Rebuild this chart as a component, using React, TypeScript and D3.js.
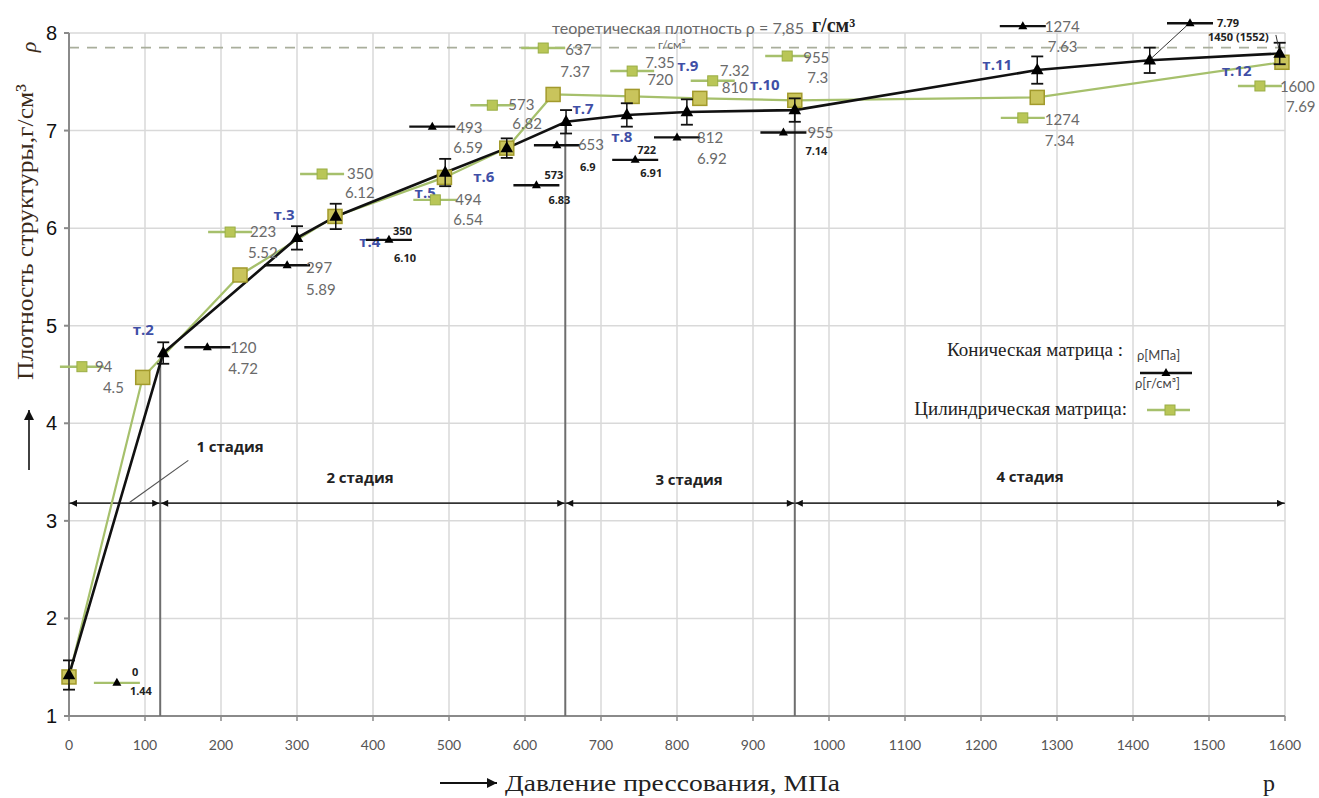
import React from 'react';
import * as d3 from 'd3';

// ---- data ----
const xTicks = [0,100,200,300,400,500,600,700,800,900,1000,1100,1200,1300,1400,1500,1600];
const yTicks = [1,2,3,4,5,6,7,8];
const theoreticalRho = 7.85;

// conical matrix (black)
const conicalP = [0,124,300,351,495,576,654,734,813,955,1274,1422,1593];
const conicalRho = [1.42,4.72,5.90,6.12,6.57,6.82,7.09,7.16,7.19,7.21,7.62,7.72,7.79];
const conicalErr = [0.15,0.11,0.12,0.13,0.14,0.10,0.12,0.12,0.13,0.12,0.14,0.13,0.11];
const pointNames = ['', 'т.2','т.3','т.4','т.5','т.6','т.7','т.8','т.9','т.10','т.11','', 'т.12'];
const pointNameDx = [0,-20,-13,34,-20,-23,17,-5,1,-30,-40,0,-43];
const pointNameDy = [0,-23,-23,25,20,29,-13,22,-46,-25,-5,0,17];

// cylindrical matrix (green)
const cylP = [0,97,225,350,494,576,637,741,830,955,1274,1596];
const cylRho = [1.40,4.47,5.52,6.12,6.52,6.82,7.37,7.35,7.33,7.31,7.34,7.70];

// stage boundaries
const stageBounds = [0,120,653,955,1600];
const stageNames = ['1 стадия','2 стадия','3 стадия','4 стадия'];
const stageRho = 3.18;
const stageLineTopRho = [4.72,7.09,7.21];

// callouts: conical
const kP = [63,182,287,421,478,615,642,745,800,940,1255,1475];
const kRho = [1.34,4.78,5.62,5.88,7.04,6.44,6.85,6.70,6.93,6.98,8.07,8.10];
const kTop = ['0','120','297','350','493','573','653','722','812','955','1274','7.79'];
const kBottom = ['1.44','4.72','5.89','6.10','6.59','6.83','6.9','6.91','6.92','7.14','7.63','1450 (1552)'];
const kTopBold = [1,0,0,1,0,1,0,1,0,0,0,1];
const kBottomBold = [1,0,0,1,0,1,1,1,0,1,0,1];
const kTopDx = [15,23,19,4,24,8,21,2,20,24,22,27];
const kTopDy = [-11,1,3,-9,1,-10,0,-10,0,0,1,0];
const kBotDx = [13,21,19,5,21,12,23,5,20,22,25,18];
const kBotDy = [8,22,25,18,21,15,22,13,21,19,21,14];

// callouts: cylindrical
const gP = [17,212,333,482,557,624,741,847,945,1255,1567];
const gRho = [4.58,5.96,6.555,6.29,7.26,7.846,7.61,7.51,7.764,7.13,7.457];
const gTop = ['94','223','350','494','573','637','7.35','7.32','955','1274','1600'];
const gBottom = ['4.5','5.52','6.12','6.54','6.82','7.37','720','810','7.3','7.34','7.69'];
const gTopDx = [13,20,25,20,16,22,13,7,16,22,20];
const gTopDy = [0,0,0,0,0,2,-8,-10,2,2,1];
const gBotDx = [21,18,23,18,20,17,15,9,20,22,26];
const gBotDy = [21,21,19,20,19,24,9,7,22,23,21];

const W = 1319, H = 798;
const x = d3.scaleLinear().domain([0,1600]).range([69,1285]);
const y = d3.scaleLinear().domain([1,8]).range([716,33]);

const GREEN = '#a6c06c';
const SQ_FILL = '#c9c45c';
const SQ_STROKE = '#a29a2c';
const GRAY_TXT = '#6a6a6a';
const BLUE = '#3f4fa6';
const SERIF = "'Liberation Serif', 'DejaVu Serif', serif";
const SANS = "Lato, 'Open Sans', sans-serif";
const BOLD_SANS = "'Open Sans', 'DejaVu Sans', sans-serif";

function Tri({cx, cy, s = 7, fill = '#000'}: {cx:number; cy:number; s?:number; fill?:string}) {
  return <path d={`M${cx},${cy - s} L${cx + s * 0.9},${cy + s * 0.6} L${cx - s * 0.9},${cy + s * 0.6} Z`} fill={fill} />;
}

export default function App() {
  const blackLine = d3.line<number>().x((_, i) => x(conicalP[i])).y((d) => y(d));
  const greenLine = d3.line<number>().x((_, i) => x(cylP[i])).y((d) => y(d));
  const stageY = y(stageRho);
  const stageLabelX = [230, 360, 689, 1030];
  const stageLabelY = [447, 478, 480, 477];

  return (
    <svg width={W} height={H} style={{position:'absolute', left:0, top:0, background:'#fff'}}>
      <defs>
        <marker id="ah" viewBox="0 0 10 10" refX="10" refY="5" markerWidth="9" markerHeight="7" orient="auto-start-reverse" markerUnits="userSpaceOnUse">
          <path d="M0,0 L10,5 L0,10 Z" fill="#111" />
        </marker>
        <marker id="ah2" viewBox="0 0 10 10" refX="10" refY="5" markerWidth="12" markerHeight="10" orient="auto" markerUnits="userSpaceOnUse">
          <path d="M0,0 L10,5 L0,10 Z" fill="#111" />
        </marker>
      </defs>

      {/* grid */}
      {xTicks.slice(1).map((t) => (
        <line key={'gx'+t} x1={x(t)} x2={x(t)} y1={y(8)} y2={y(1)} stroke="#d9d9d9" strokeWidth={1.5} />
      ))}
      {yTicks.slice(1).map((t) => (
        <line key={'gy'+t} x1={x(0)} x2={x(1600)} y1={y(t)} y2={y(t)} stroke="#d9d9d9" strokeWidth={1.5} />
      ))}

      {/* theoretical density dashed line */}
      <line x1={x(0)} x2={x(1600)} y1={y(theoreticalRho)} y2={y(theoreticalRho)} stroke="#a9ae9c" strokeWidth={1.6} strokeDasharray="10,8" />

      {/* axes */}
      <line x1={x(0)} x2={x(0)} y1={y(8)} y2={y(1)} stroke="#8a8a8a" strokeWidth={2} />
      <line x1={x(0)} x2={x(1600)} y1={y(1)} y2={y(1)} stroke="#8a8a8a" strokeWidth={2} />
      {yTicks.map((t) => (
        <g key={'yt'+t}>
          <line x1={x(0)-5} x2={x(0)} y1={y(t)} y2={y(t)} stroke="#8a8a8a" strokeWidth={2} />
          <text x={57} y={y(t)} dy="0.35em" textAnchor="end" fontFamily="Liberation Sans, Arial, sans-serif" fontSize={20} fill="#111">{t}</text>
        </g>
      ))}
      {xTicks.map((t) => (
        <g key={'xt'+t}>
          <line x1={x(t)} x2={x(t)} y1={y(1)} y2={y(1)+5} stroke="#8a8a8a" strokeWidth={1.5} />
          <text x={x(t)} y={745} dy="0.35em" textAnchor="middle" fontFamily={SANS} fontSize={14} fill="#555">{t}</text>
        </g>
      ))}

      {/* stage vertical lines */}
      {stageBounds.slice(1,4).map((b, i) => (
        <line key={'sv'+b} x1={x(b)} x2={x(b)} y1={y(stageLineTopRho[i])} y2={y(1)} stroke="#6e6e6e" strokeWidth={2} />
      ))}
      {/* stage arrow line */}
      <line x1={x(0)} x2={x(1600)} y1={stageY} y2={stageY} stroke="#444" strokeWidth={1.5} />
      {stageBounds.slice(0,4).map((b, i) => (
        <line key={'sa'+b} x1={x(b)+1} x2={x(stageBounds[i+1])-1} y1={stageY} y2={stageY} stroke="#333" strokeWidth={1.5} markerStart="url(#ah)" markerEnd="url(#ah)" />
      ))}
      {stageNames.map((n, i) => (
        <text key={n} x={stageLabelX[i]} y={stageLabelY[i]} dy="0.35em" textAnchor="middle" fontFamily={BOLD_SANS} fontWeight="bold" fontSize={15} fill="#222">{n}</text>
      ))}
      <line x1={x(157)} y1={y(3.62)} x2={x(80)} y2={y(3.19)} stroke="#555" strokeWidth={1.2} />

      {/* cylindrical line */}
      <path d={greenLine(cylRho) || ''} fill="none" stroke={GREEN} strokeWidth={2.2} />
      {/* conical line */}
      <path d={blackLine(conicalRho) || ''} fill="none" stroke="#111" strokeWidth={2.6} />

      {/* green squares */}
      {cylP.map((p, i) => (
        <rect key={'sq'+i} x={x(p)-7} y={y(cylRho[i])-7} width={14} height={14} fill={SQ_FILL} stroke={SQ_STROKE} strokeWidth={1.5} />
      ))}

      {/* error bars + triangles */}
      {conicalP.map((p, i) => {
        const cx = x(p), t = y(conicalRho[i] + conicalErr[i]), b = y(conicalRho[i] - conicalErr[i]);
        return (
          <g key={'eb'+i}>
            <line x1={cx} x2={cx} y1={t} y2={b} stroke="#111" strokeWidth={1.5} />
            <line x1={cx-6} x2={cx+6} y1={t} y2={t} stroke="#111" strokeWidth={1.8} />
            <line x1={cx-6} x2={cx+6} y1={b} y2={b} stroke="#111" strokeWidth={1.8} />
            <Tri cx={cx} cy={y(conicalRho[i])} s={7} />
          </g>
        );
      })}

      {/* point names */}
      {conicalP.map((p, i) => pointNames[i] ? (
        <text key={'pn'+i} x={x(p)+pointNameDx[i]} y={y(conicalRho[i])+pointNameDy[i]} dy="0.35em" textAnchor="middle" fontFamily={BOLD_SANS} fontWeight="bold" fontSize={15} fill={BLUE}>{pointNames[i]}</text>
      ) : null)}

      {/* conical callouts */}
      {kP.map((p, i) => {
        const cx = x(p), cy = y(kRho[i]);
        const lineColor = i === 0 ? GREEN : '#111';
        const tb = kTopBold[i], bb = kBottomBold[i];
        return (
          <g key={'kc'+i}>
            <line x1={cx-23} x2={cx+23} y1={cy} y2={cy} stroke={lineColor} strokeWidth={2.4} />
            <Tri cx={cx} cy={cy} s={5} />
            <text x={cx+kTopDx[i]} y={cy+kTopDy[i]} dy="0.35em" fontFamily={tb ? BOLD_SANS : SANS} fontWeight={tb ? 'bold' : 'normal'} fontSize={tb ? 11 : 15} fill={tb ? '#222' : GRAY_TXT}>{kTop[i]}</text>
            <text x={cx+kBotDx[i]} y={cy+kBotDy[i]} dy="0.35em" fontFamily={bb ? BOLD_SANS : SANS} fontWeight={bb ? 'bold' : 'normal'} fontSize={bb ? 11 : 15} fill={bb ? '#222' : GRAY_TXT}>{kBottom[i]}</text>
          </g>
        );
      })}
      {/* leaders for top-right callout */}
      <line x1={x(1470)} y1={y(8.07)} x2={x(1424)} y2={y(7.74)} stroke="#333" strokeWidth={1} />
      <line x1={x(1588)} y1={y(7.98)} x2={x(1592)} y2={y(7.84)} stroke="#333" strokeWidth={1} />

      {/* cylindrical callouts */}
      {gP.map((p, i) => {
        const cx = x(p), cy = y(gRho[i]);
        return (
          <g key={'gc'+i}>
            <line x1={cx-22} x2={cx+22} y1={cy} y2={cy} stroke={GREEN} strokeWidth={2.4} />
            <rect x={cx-5} y={cy-5} width={10} height={10} fill="#b9c657" stroke="#9aae45" strokeWidth={1} />
            <text x={cx+gTopDx[i]} y={cy+gTopDy[i]} dy="0.35em" fontFamily={SANS} fontSize={15} fill={GRAY_TXT}>{gTop[i]}</text>
            <text x={cx+gBotDx[i]} y={cy+gBotDy[i]} dy="0.35em" fontFamily={SANS} fontSize={15} fill={GRAY_TXT}>{gBottom[i]}</text>
          </g>
        );
      })}

      {/* theoretical density label */}
      <text x={552} y={29} dy="0.35em" fontFamily={SANS} fontSize={15} fill={GRAY_TXT} textLength={252} lengthAdjust="spacingAndGlyphs">теоретическая плотность ρ = 7,85</text>
      <text x={812} y={25} dy="0.35em" fontFamily={SERIF} fontWeight="bold" fontSize={20} fill="#222">г/см³</text>
      <text x={658} y={45} dy="0.35em" fontFamily={SANS} fontSize={12} fill={GRAY_TXT}>г/см³</text>

      {/* legend */}
      <text x={1123} y={349} dy="0.35em" textAnchor="end" fontFamily={SERIF} fontSize={19} fill="#222">Коническая матрица :</text>
      <text x={1137} y={355} dy="0.35em" fontFamily={SANS} fontSize={13} fill="#444">ρ[МПа]</text>
      <line x1={1140} x2={1192} y1={373} y2={373} stroke="#111" strokeWidth={2.4} />
      <Tri cx={1166} cy={373} s={5} />
      <text x={1135} y={383} dy="0.35em" fontFamily={SANS} fontSize={13} fill="#444">ρ[г/см³]</text>
      <text x={1127} y={408} dy="0.35em" textAnchor="end" fontFamily={SERIF} fontSize={19} fill="#222">Цилиндрическая матрица:</text>
      <line x1={1147} x2={1190} y1={410} y2={410} stroke={GREEN} strokeWidth={2.4} />
      <rect x={1165} y={405} width={10} height={10} fill="#b9c657" stroke="#9aae45" strokeWidth={1} />

      {/* axis titles */}
      <text transform="translate(33,380) rotate(-90)" fontFamily={SERIF} fontSize={24} fill="#3b2a1a" textLength={296} lengthAdjust="spacingAndGlyphs">Плотность структуры,г/см³</text>
      <text x={28} y={47} dy="0.35em" textAnchor="middle" transform="rotate(-90,28,47)" fontFamily={SERIF} fontStyle="italic" fontSize={22} fill="#3b2a1a">ρ</text>
      <line x1={29} x2={29} y1={470} y2={410} stroke="#111" strokeWidth={1.6} markerEnd="url(#ah2)" />

      <line x1={440} x2={497} y1={783} y2={783} stroke="#111" strokeWidth={1.8} markerEnd="url(#ah2)" />
      <text x={505} y={791} fontFamily={SERIF} fontSize={24} fill="#222" textLength={335} lengthAdjust="spacingAndGlyphs">Давление прессования, МПа</text>
      <text x={1263} y={791} fontFamily={SERIF} fontSize={24} fill="#222">p</text>
    </svg>
  );
}
